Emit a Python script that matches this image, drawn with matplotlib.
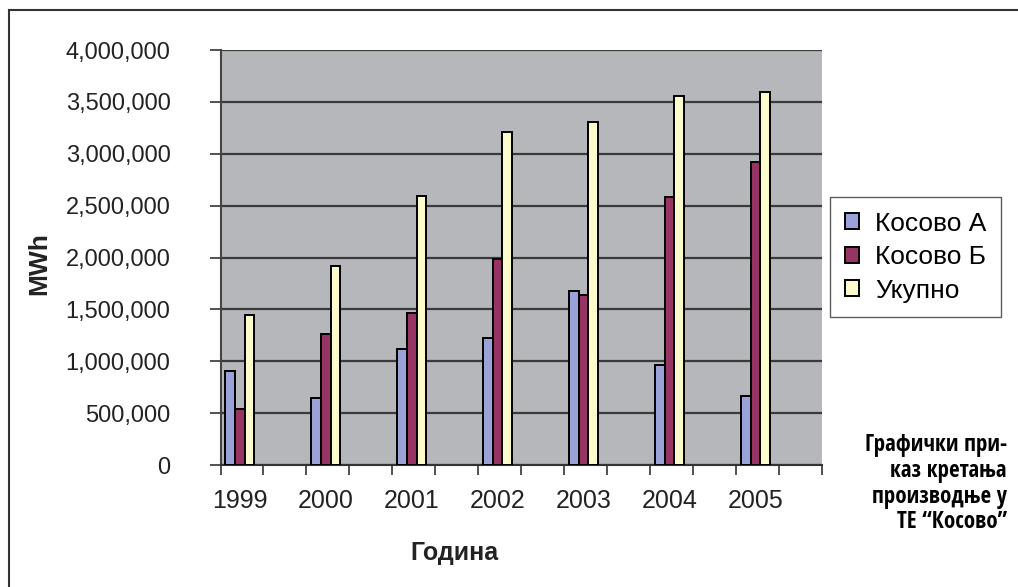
import numpy as np
import matplotlib.pyplot as plt
from matplotlib.lines import Line2D
from matplotlib.ticker import FuncFormatter

years = ['1999', '2000', '2001', '2002', '2003', '2004', '2005']
kosovo_a = [910000, 650000, 1115000, 1220000, 1680000, 960000, 665000]
kosovo_b = [537000, 1260000, 1468000, 1983000, 1636000, 2587000, 2918000]
ukupno = [1446000, 1920000, 2596000, 3213000, 3310000, 3554000, 3593000]
series_names = ['Косово А', 'Косово Б', 'Укупно']
note = 'Графички при-\nказ кретања\nпроизводње у\nТЕ “Косово”'

plt.rcParams['font.family'] = ['Liberation Sans', 'DejaVu Sans']

W, H = 1018, 587
fig = plt.figure(figsize=(W / 100, H / 100), dpi=100)
ax = fig.add_axes([220.5 / W, 1 - 465 / H, (822 - 220.5) / W, (465 - 50) / H])
ax.set_facecolor('#b5b7bb')

x = np.arange(len(years))
w = 0.113
colors = ['#9aa2d8', '#963463', '#fbfbcc']
for k, (vals, c, name) in enumerate(zip([kosovo_a, kosovo_b, ukupno], colors, series_names)):
    ax.bar(x + (k - 1) * w, vals, width=w, color=c, edgecolor='black',
           linewidth=1.4, label=name, zorder=3)

off = 0.225
ax.set_xlim(-off, len(years) - off)
ax.set_ylim(0, 4000000)
ax.set_yticks(np.arange(0, 4000001, 500000))
ax.yaxis.set_major_formatter(FuncFormatter(lambda v, p: f'{int(v):,}'))
ax.grid(axis='y', color='#3a3a3a', linewidth=1.6, zorder=1)

ax.set_xticks(np.arange(-off, len(years), 0.5))
ax.set_xticklabels([])
ax.set_xticks(x, minor=True)
ax.set_xticklabels(years, minor=True)
ax.tick_params(axis='x', which='major', length=7, width=1.2, color='#333333')
ax.tick_params(axis='x', which='minor', length=0, pad=17, labelsize=18, labelcolor='#222222')
ax.tick_params(axis='y', length=8, width=1.2, color='#333333', pad=28,
               labelsize=17, labelcolor='#222222')

for s in ['top', 'right']:
    ax.spines[s].set_visible(False)
ax.spines['left'].set_color('#444444')
ax.spines['bottom'].set_color('#333333')
ax.spines['left'].set_linewidth(1.5)
ax.spines['bottom'].set_linewidth(1.5)

fig.text(39 / W, 1 - 264 / H, 'MWh', rotation=90, fontsize=19, fontweight='bold',
         ha='center', va='center', color='#222222')
fig.text(454 / W, 1 - 553 / H, 'Година', fontsize=18, fontweight='bold',
         ha='center', va='center', color='#222222')

fig.legend(loc='upper left', bbox_to_anchor=(830 / W, 1 - 197 / H), borderaxespad=0,
           fontsize=19, frameon=True, fancybox=False, edgecolor='#333333',
           handlelength=0.55, handleheight=0.55, handletextpad=0.6,
           labelspacing=0.36, borderpad=0.55)

fig.text(1007 / W, 1 - 433 / H, note, ha='right', va='top', fontsize=16.5,
         fontweight='bold', linespacing=1.1,
         family=['Open Sans Condensed', 'Liberation Sans'])

fig.add_artist(Line2D([8.5 / W, 8.5 / W], [0, 1 - 10 / H], color='#333333', linewidth=1.5))
fig.add_artist(Line2D([8.5 / W, 1], [1 - 10 / H, 1 - 10 / H], color='#333333', linewidth=1.5))

fig.savefig('out.png', dpi=100, facecolor='white')
